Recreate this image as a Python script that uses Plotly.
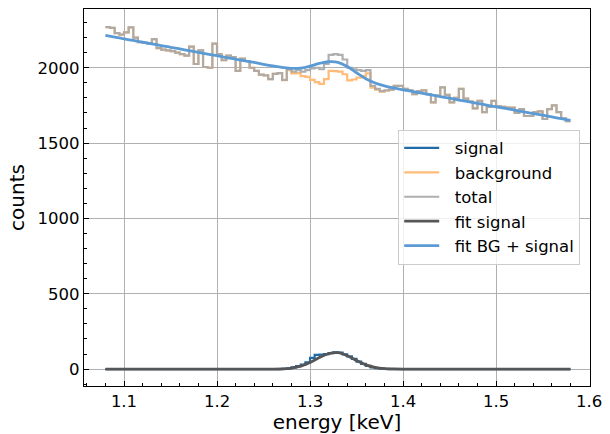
import numpy as np
import plotly.graph_objects as go

# ---------------- data ----------------
# histogram bins: 100 bins of width 0.005 keV between 1.08 and 1.58 keV
bin_edges = np.linspace(1.08, 1.58, 101)

total_counts = [
    2270, 2265, 2230, 2220, 2235, 2268, 2200, 2170, 2165, 2160,
    2190, 2130, 2120, 2115, 2110, 2100, 2090, 2080, 2140, 2025,
    2115, 2005, 2000, 2160, 2090, 2050, 2080, 2070, 1980, 2060,
    2045, 2000, 1980, 1955, 1950, 1925, 1960, 1965, 1920, 1990,
    1975, 1985, 1975, 1985, 1995, 2000, 1990, 2025, 2085, 2090,
    2085, 2055, 2000, 1990, 1985, 1980, 1985, 1880, 1860, 1845,
    1850, 1855, 1880, 1880, 1860, 1850, 1825, 1845, 1850, 1825,
    1770, 1815, 1870, 1820, 1770, 1800, 1860, 1795, 1775, 1730,
    1780, 1705, 1740, 1780, 1745, 1740, 1735, 1735, 1700, 1725,
    1680, 1680, 1705, 1710, 1660, 1725, 1750, 1705, 1665, 1645,
]

signal_counts = [
    0, 0, 0, 0, 0, 0, 0, 0, 0, 0,
    0, 0, 0, 0, 0, 0, 0, 0, 0, 0,
    0, 0, 0, 0, 0, 0, 0, 0, 0, 0,
    0, 0, 0, 0, 0, 0, 0, 0, 2, 5,
    12, 20, 30, 45, 75, 95, 97, 100, 106, 112,
    110, 98, 84, 68, 50, 35, 22, 12, 6, 3,
    1, 0, 0, 0, 0, 0, 0, 0, 0, 0,
    0, 0, 0, 0, 0, 0, 0, 0, 0, 0,
    0, 0, 0, 0, 0, 0, 0, 0, 0, 0,
    0, 0, 0, 0, 0, 0, 0, 0, 0, 0,
]

# background histogram = total minus signal
background_counts = [t - s for t, s in zip(total_counts, signal_counts)]

# fitted curves, sampled every 0.01 keV from 1.08 to 1.58
fit_energy = np.linspace(1.08, 1.58, 51)
fit_signal = [
    0, 0, 0, 0, 0, 0, 0, 0, 0, 0,
    0, 0, 0, 0, 0, 0, 0, 0, 0.4, 2,
    7, 20, 44, 77, 103, 109, 89, 57, 28, 11,
    3, 1, 0, 0, 0, 0, 0, 0, 0, 0,
    0, 0, 0, 0, 0, 0, 0, 0, 0, 0,
    0,
]
fit_total = [
    2215, 2204, 2192, 2181, 2170, 2159, 2147, 2136, 2125, 2113,
    2102, 2091, 2080, 2068, 2057, 2046, 2035, 2023, 2012, 2003,
    1996, 1998, 2011, 2029, 2040, 2036, 2009, 1967, 1927, 1899,
    1880, 1866, 1854, 1843, 1831, 1820, 1809, 1798, 1786, 1775,
    1764, 1752, 1741, 1730, 1719, 1707, 1696, 1685, 1674, 1662,
    1651,
]

x_ticks = [1.1, 1.2, 1.3, 1.4, 1.5, 1.6]
x_tick_labels = ["1.1", "1.2", "1.3", "1.4", "1.5", "1.6"]
y_ticks = [0, 500, 1000, 1500, 2000]
y_tick_labels = ["0", "500", "1000", "1500", "2000"]

# ---------------- figure ----------------
FONT = "DejaVu Sans"


def stairs(vals):
    return list(vals) + [vals[-1]]


fig = go.Figure()
fig.add_trace(go.Scatter(x=bin_edges, y=stairs(signal_counts), mode="lines",
                         line=dict(shape="hv", color="#1f6aa8", width=2.2),
                         name="  signal"))
fig.add_trace(go.Scatter(x=bin_edges, y=stairs(background_counts), mode="lines",
                         line=dict(shape="hv", color="#ffbb78", width=2.2),
                         name="  background"))
fig.add_trace(go.Scatter(x=bin_edges, y=stairs(total_counts), mode="lines",
                         line=dict(shape="hv", color="rgba(168,168,168,0.92)", width=2.2),
                         name="  total"))
fig.add_trace(go.Scatter(x=fit_energy, y=fit_signal, mode="lines",
                         line=dict(shape="spline", color="#565656", width=2.8),
                         name="  fit signal"))
fig.add_trace(go.Scatter(x=fit_energy, y=fit_total, mode="lines",
                         line=dict(shape="spline", color="#5b9bd5", width=2.8),
                         name="  fit BG + signal"))

axis_common = dict(
    showline=True, linecolor="black", linewidth=1.2, mirror=True,
    showgrid=True, gridcolor="#b0b0b0", gridwidth=1,
    zeroline=False, automargin=False,
    ticks="inside", ticklen=5, tickwidth=1, tickcolor="black",
    tickfont=dict(family=FONT, size=16.5, color="black"),
)

fig.update_xaxes(
    **axis_common,
    range=[1.057, 1.601],
    tickvals=x_ticks, ticktext=x_tick_labels,
    minor=dict(dtick=0.02, tick0=1.0, ticks="inside", ticklen=3,
               tickwidth=1, tickcolor="black", showgrid=False),
    title=dict(text="energy [keV]", font=dict(family=FONT, size=20, color="black"),
               standoff=8),
)
fig.update_yaxes(
    **axis_common,
    range=[-112, 2390],
    tickvals=y_ticks, ticktext=y_tick_labels,
    minor=dict(dtick=100, tick0=0, ticks="inside", ticklen=3,
               tickwidth=1, tickcolor="black", showgrid=False),
    title=dict(text="counts", font=dict(family=FONT, size=20, color="black"),
               standoff=7),
)

fig.update_layout(
    width=610, height=434,
    margin=dict(l=84, r=20, t=9, b=48),
    paper_bgcolor="white", plot_bgcolor="white",
    font=dict(family=FONT, color="black"),
    legend=dict(
        x=0.621, y=0.68, xanchor="left", yanchor="top",
        bgcolor="rgba(255,255,255,0.8)", bordercolor="#cccccc", borderwidth=1,
        font=dict(family=FONT, size=16.5, color="black"),
        itemwidth=35,
    ),
    showlegend=True,
)

fig.write_html("out.html")
